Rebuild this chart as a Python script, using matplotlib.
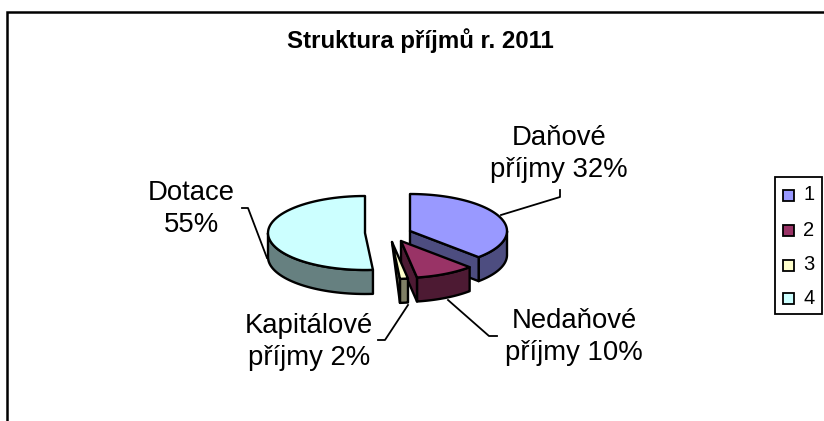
import numpy as np
import matplotlib
matplotlib.use("Agg")
import matplotlib.pyplot as plt
from matplotlib.patches import Polygon, Rectangle

plt.rcParams['font.family'] = ['Liberation Sans', 'DejaVu Sans']

title = "Struktura příjmů r. 2011"
legend_labels = ["1", "2", "3", "4"]
values = [32, 10, 2, 55]
slice_labels = ["Daňové\npříjmy 32%", "Nedaňové\npříjmy 10%", "Kapitálové\npříjmy 2%", "Dotace\n55%"]
top_colors = ["#9999FF", "#993366", "#FFFFCC", "#CCFFFF"]
side_colors = ["#4D4D80", "#4D1A33", "#808066", "#668080"]

W, H = 824, 421
fig = plt.figure(figsize=(W / 100, H / 100), dpi=100)
ax = fig.add_axes([0, 0, 1, 1])
ax.set_xlim(0, W)
ax.set_ylim(H, 0)
ax.axis("off")

# Layout of the tilted pie (exploded slice centres, radii, thickness)
centres = [(410, 231), (401, 241), (392, 242), (365, 233)]
rx, ry, depth = 97, 37, 24
# Excel's perspective stretches the front of the pie: true angle -> drawn angle
true_deg = [0, 116.4, 152.7, 160, 360]
shown_deg = [0, 135, 170.5, 175.3, 360]

edges = np.cumsum([0] + values) / sum(values) * 360
edges = np.interp(edges, true_deg, shown_deg)


def rim(c, a):
    a = np.radians(a)
    return np.column_stack([c[0] + rx * np.sin(a), c[1] - ry * np.cos(a)])


def add_poly(pts, color, z):
    ax.add_patch(Polygon(pts, closed=True, facecolor=color, edgecolor="black",
                         linewidth=1.7, joinstyle="round", zorder=z))


for z, i in enumerate([3, 0, 1, 2]):
    c = centres[i]
    a0, a1 = edges[i], edges[i + 1]
    base = 2 + z * 3
    # outer wall (front half only)
    w0, w1 = max(a0, 90), min(a1, 270)
    if w1 > w0:
        arc = rim(c, np.linspace(w0, w1, 40))
        add_poly(np.vstack([arc, (arc + [0, depth])[::-1]]), side_colors[i], base)
    # cut face at the end of the slice
    if a1 < 180:
        e = rim(c, [a1])[0]
        if i == 2:
            # the sliver's face narrows to a point at the apex
            add_poly([c, e, e + [0, depth]], side_colors[i], base + 1)
        else:
            add_poly([c, e, e + [0, depth], np.array(c) + [0, depth]], side_colors[i], base + 1)
    # top face
    arc = rim(c, np.linspace(a0, a1, 60))
    add_poly(np.vstack([[c], arc]), top_colors[i], base + 2)

# Leader lines
leaders = [([501, 560, 560], [215, 197, 190]), ([448, 489, 497], [300, 336, 336]),
           ([408, 385, 378], [305, 340, 340]), ([242, 248, 267], [208, 208, 258])]
for xs, ys in leaders:
    ax.plot(xs, ys, color="black", lw=1.3, zorder=1)

# Slice labels
label_pos = [(559, 154), (574, 337), (309, 342), (191, 209)]
for (x, y), s in zip(label_pos, slice_labels):
    ax.text(x, y, s, ha="center", va="center", fontsize=19.8, linespacing=1.28, zorder=30)

ax.text(420.5, 48, title, ha="center", va="baseline", fontsize=17.3, fontweight="bold")

# Chart frame (only top and left visible)
ax.plot([7.5, 7.5, W], [H, 11.5, 11.5], color="black", lw=1.8, solid_joinstyle="miter")

# Legend
ax.add_patch(Rectangle((775.5, 177), 46.5, 137, facecolor="white", edgecolor="black", lw=1.3))
legend_y = [195, 230, 265, 298]
for y, s, col in zip(legend_y, legend_labels, top_colors):
    ax.add_patch(Rectangle((783.5, y - 5.5), 11, 11, facecolor=col, edgecolor="black", lw=1.3))
    ax.text(809, y, s, ha="center", va="center", fontsize=14.5)

fig.savefig("out.png", dpi=100, facecolor="white")
